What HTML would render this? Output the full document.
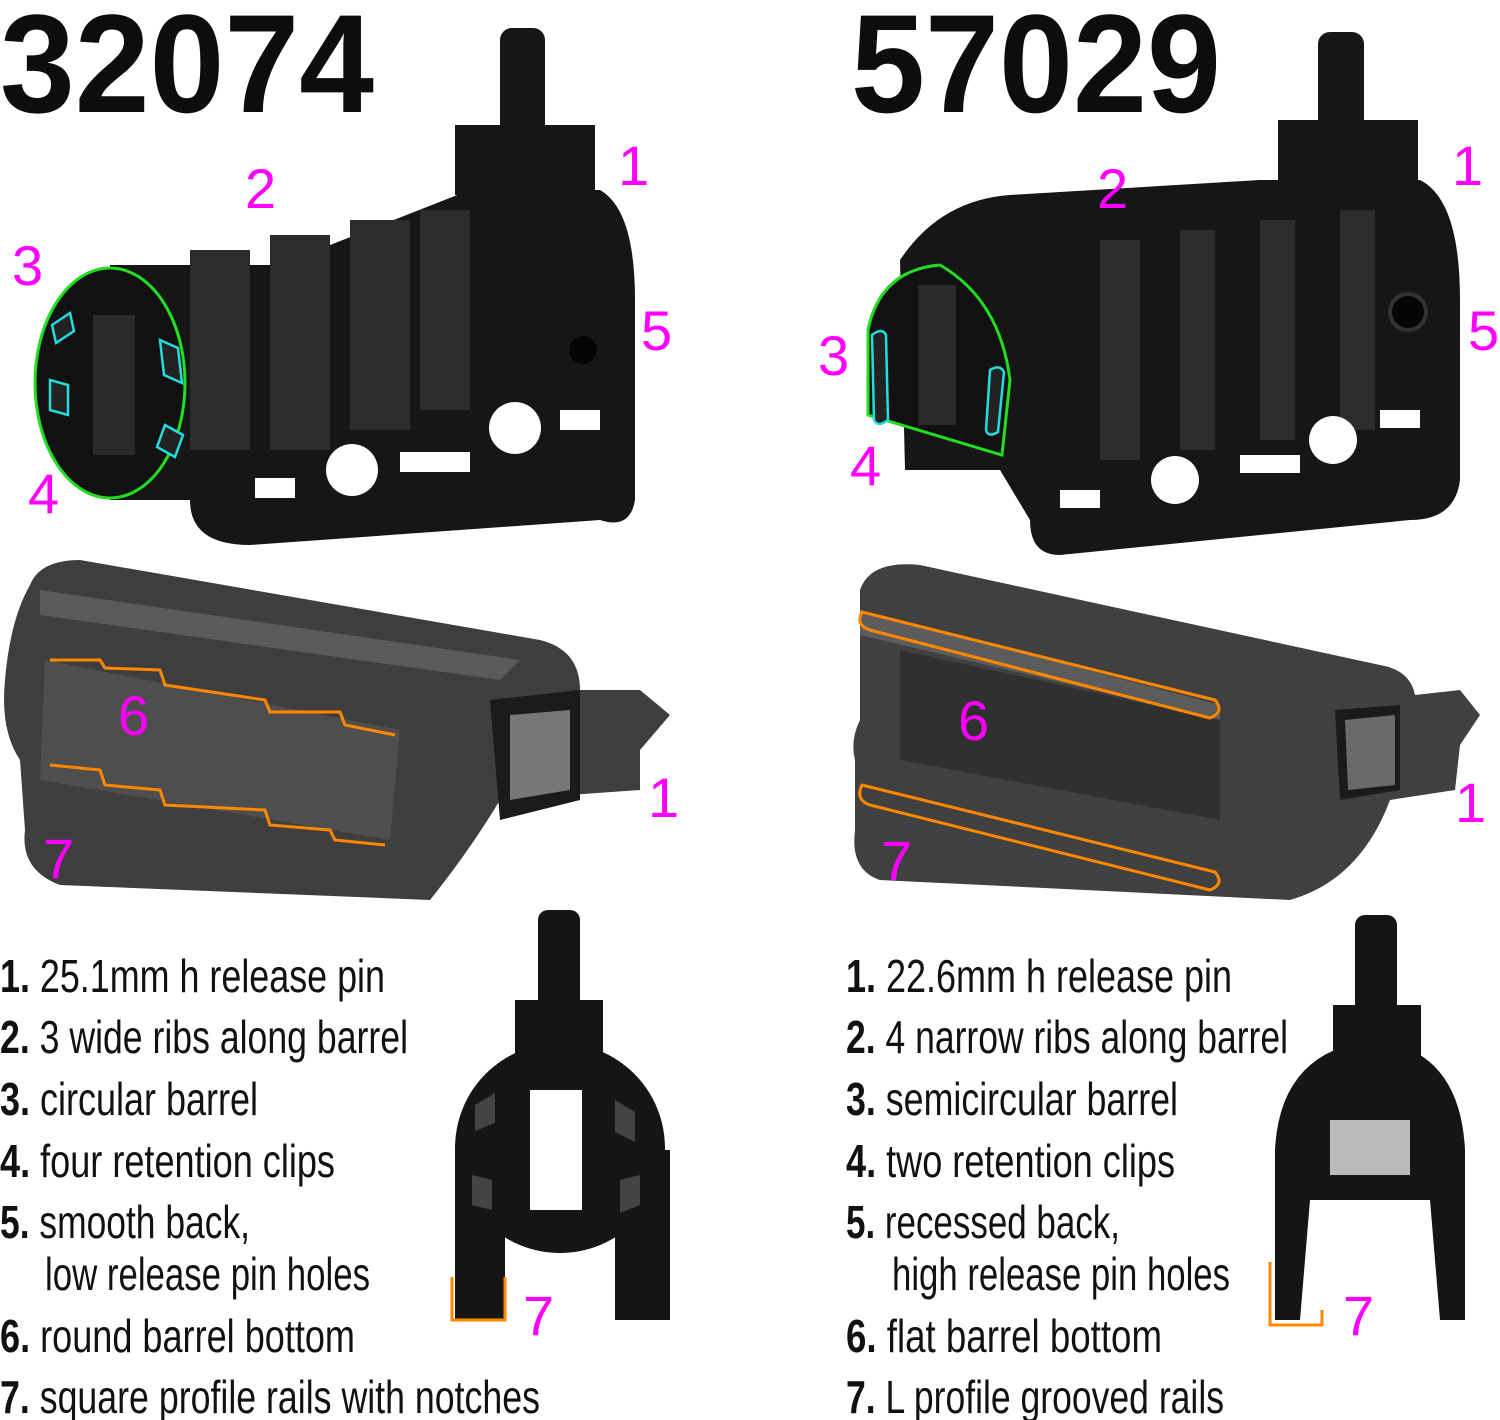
<!DOCTYPE html>
<html><head><meta charset="utf-8"><style>
html,body{margin:0;padding:0;background:#fff;width:1500px;height:1420px;overflow:hidden}
svg{display:block}
.t{font-family:"Liberation Sans Narrow","Liberation Sans",sans-serif;font-size:46px;fill:#111}
.b{font-weight:bold}
.m{font-family:"Liberation Sans",sans-serif;font-size:56px;fill:#ff00ff}
.h{font-family:"Liberation Sans Narrow","Liberation Sans",sans-serif;font-weight:bold;font-size:140px;fill:#0d0d0d}
</style></head><body>
<svg width="1500" height="1420" viewBox="0 0 1500 1420" xmlns="http://www.w3.org/2000/svg">
<!-- titles -->
<text class="h" x="0" y="112" textLength="374" lengthAdjust="spacingAndGlyphs">32074</text>
<text class="h" x="851" y="112" textLength="370" lengthAdjust="spacingAndGlyphs">57029</text>

<!-- LEFT TOP PART -->
<g fill="#161616">
<rect x="500" y="28" width="45" height="110" rx="12"/>
<rect x="455" y="125" width="140" height="70"/>
<path d="M190 300 L470 190 L600 190 Q635 210 635 300 L635 500 Q630 530 600 520 L250 545 Q190 545 190 500 Z"/>
<rect x="110" y="265" width="370" height="235"/>
</g>
<g fill="#2c2c2c">
<rect x="190" y="250" width="60" height="200"/><rect x="270" y="235" width="60" height="215"/><rect x="350" y="220" width="60" height="210"/><rect x="420" y="210" width="50" height="200"/>
</g>
<g fill="#fff">
<circle cx="352" cy="470" r="26"/><circle cx="515" cy="428" r="26"/><circle cx="583" cy="350" r="14" fill="#050505"/>
<rect x="255" y="478" width="40" height="20"/><rect x="400" y="452" width="70" height="20"/><rect x="560" y="410" width="40" height="20"/>
</g>
<ellipse cx="110" cy="383" rx="75" ry="115" fill="#111" stroke="#22dd22" stroke-width="3"/>
<rect x="93" y="315" width="42" height="140" fill="#2a2a2a"/>
<g fill="#222" stroke="#22dddd" stroke-width="2.5">
<path d="M52 325 l18-12 l4 18 l-18 12z"/><path d="M160 340 l18 8 l4 35 l-18-8z"/><path d="M50 380 l18 5 l0 30 l-18-5z"/><path d="M165 425 l18 10 l-8 22 l-18-10z"/>
</g>

<!-- RIGHT TOP PART -->
<g fill="#161616">
<rect x="1318" y="32" width="46" height="110" rx="12"/>
<rect x="1278" y="120" width="140" height="70"/>
<path d="M900 260 Q940 200 1010 195 L1260 180 L1420 180 Q1460 200 1460 300 L1460 480 Q1455 520 1410 520 L1060 555 Q1030 555 1030 520 L1000 470 L905 470 Z"/>
</g>
<g fill="#2c2c2c">
<rect x="1100" y="240" width="40" height="220"/><rect x="1180" y="230" width="35" height="220"/><rect x="1260" y="220" width="35" height="220"/><rect x="1340" y="210" width="35" height="220"/>
</g>
<g fill="#fff"><circle cx="1175" cy="480" r="24"/><circle cx="1333" cy="440" r="24"/><rect x="1060" y="490" width="40" height="18"/><rect x="1240" y="455" width="60" height="18"/><rect x="1380" y="410" width="40" height="18"/></g>
<circle cx="1408" cy="312" r="18" fill="#050505" stroke="#333" stroke-width="4"/>
<path d="M868 415 L868 330 Q880 270 940 265 Q1000 300 1010 380 L1002 455 Z" fill="#111" stroke="#22dd22" stroke-width="3"/>
<rect x="918" y="285" width="38" height="140" fill="#2a2a2a"/>
<g fill="#222" stroke="#22dddd" stroke-width="2.5"><path d="M872 335 q10-8 14 0 l2 85 q-10 8-14 0z"/><path d="M990 370 q10-6 14 2 l-6 60 q-10 6-12-2z"/></g>

<!-- LEFT BOTTOM PART -->
<path d="M30 585 Q40 560 80 560 L540 640 Q580 650 580 690 L640 690 L670 715 L640 750 L640 790 L500 800 Q470 850 430 900 L60 885 Q20 870 25 830 L20 760 Q0 730 5 680 Q10 620 30 585 Z" fill="#3e3e3e"/>
<path d="M40 590 L520 660 L500 680 L40 615 Z" fill="#5a5a5a"/>
<path d="M45 660 L400 730 L390 840 L40 780 Z" fill="#4e4e4e"/>
<path d="M490 700 L580 690 L580 800 L500 820 Z" fill="#1a1a1a"/>
<path d="M510 715 L570 710 L570 790 L510 800 Z" fill="#777"/>
<path d="M50 660 L100 660 L105 668 L160 670 L165 685 L265 700 L270 712 L340 712 L345 725 L395 735" fill="none" stroke="#ff8800" stroke-width="3"/>
<path d="M50 765 L100 770 L105 785 L160 790 L165 805 L265 810 L270 825 L330 830 L335 840 L385 845" fill="none" stroke="#ff8800" stroke-width="3"/>

<!-- RIGHT BOTTOM PART -->
<path d="M860 590 Q870 560 920 565 L1380 665 Q1410 670 1415 695 L1460 690 L1480 715 L1460 745 L1455 790 L1390 800 Q1360 880 1290 900 L880 880 Q850 870 855 830 L855 760 Q850 740 860 720 Z" fill="#404040"/>
<path d="M860 610 L1220 705 L1220 720 L860 635 Z" fill="#5c5c5c"/>
<path d="M900 650 L1220 720 L1220 820 L900 760 Z" fill="#303030"/>
<path d="M1335 710 L1400 705 L1400 790 L1340 800 Z" fill="#1a1a1a"/>
<path d="M1345 720 L1395 715 L1395 785 L1348 790 Z" fill="#6a6a6a"/>
<path d="M862 612 Q855 625 870 630 L1210 718 Q1225 712 1215 700 Z" fill="none" stroke="#ff8800" stroke-width="3"/>
<path d="M862 785 Q855 800 870 805 L1210 890 Q1225 884 1215 872 Z" fill="none" stroke="#ff8800" stroke-width="3"/>

<!-- LEFT FRONT VIEW -->
<g fill="#151515">
<rect x="538" y="910" width="42" height="110" rx="10"/>
<rect x="515" y="1000" width="88" height="65"/>
<circle cx="560" cy="1148" r="105"/>
<rect x="455" y="1150" width="50" height="170"/><rect x="615" y="1150" width="55" height="170"/>
</g>
<rect x="530" y="1090" width="52" height="120" fill="#fff"/>
<g fill="#444"><path d="M475 1105 l20-12 l0 30 l-20 8z"/><path d="M472 1175 l20 5 l0 30 l-20-5z"/><path d="M615 1100 l20 12 l0 30 l-20-10z"/><path d="M620 1180 l20-5 l0 30 l-20 8z"/></g>
<path d="M452 1277 L452 1320 L505 1320 L505 1277" fill="none" stroke="#ff8800" stroke-width="3"/>

<!-- RIGHT FRONT VIEW -->
<g fill="#151515">
<rect x="1355" y="915" width="42" height="105" rx="10"/>
<rect x="1333" y="1005" width="88" height="55"/>
<path d="M1275 1320 L1275 1150 Q1280 1050 1375 1040 Q1460 1050 1465 1150 L1465 1320 L1440 1320 L1430 1200 L1310 1200 L1300 1320 Z"/>
</g>
<rect x="1330" y="1120" width="80" height="55" fill="#bbb"/>
<path d="M1270 1262 L1270 1325 L1322 1325 L1322 1310" fill="none" stroke="#ff8800" stroke-width="3"/>

<!-- magenta labels -->
<g class="m">
<text x="618" y="185">1</text><text x="245" y="208">2</text><text x="12" y="285">3</text><text x="28" y="513">4</text><text x="641" y="350">5</text>
<text x="118" y="735">6</text><text x="648" y="817">1</text><text x="43" y="878">7</text><text x="523" y="1335">7</text>
<text x="1452" y="185">1</text><text x="1097" y="208">2</text><text x="818" y="375">3</text><text x="850" y="485">4</text><text x="1468" y="350">5</text>
<text x="958" y="740">6</text><text x="1455" y="822">1</text><text x="881" y="880">7</text><text x="1343" y="1335">7</text>
</g>

<!-- left list -->
<g class="t">
<text x="0" y="992" textLength="385" lengthAdjust="spacingAndGlyphs"><tspan class="b">1.</tspan> 25.1mm h release pin</text>
<text x="0" y="1053" textLength="408" lengthAdjust="spacingAndGlyphs"><tspan class="b">2.</tspan> 3 wide ribs along barrel</text>
<text x="0" y="1115" textLength="258" lengthAdjust="spacingAndGlyphs"><tspan class="b">3.</tspan> circular barrel</text>
<text x="0" y="1177" textLength="335" lengthAdjust="spacingAndGlyphs"><tspan class="b">4.</tspan> four retention clips</text>
<text x="0" y="1238" textLength="250" lengthAdjust="spacingAndGlyphs"><tspan class="b">5.</tspan> smooth back,</text>
<text x="45" y="1290" textLength="325" lengthAdjust="spacingAndGlyphs">low release pin holes</text>
<text x="0" y="1352" textLength="355" lengthAdjust="spacingAndGlyphs"><tspan class="b">6.</tspan> round barrel bottom</text>
<text x="0" y="1413" textLength="540" lengthAdjust="spacingAndGlyphs"><tspan class="b">7.</tspan> square profile rails with notches</text>
</g>
<!-- right list -->
<g class="t">
<text x="846" y="992" textLength="386" lengthAdjust="spacingAndGlyphs"><tspan class="b">1.</tspan> 22.6mm h release pin</text>
<text x="846" y="1053" textLength="442" lengthAdjust="spacingAndGlyphs"><tspan class="b">2.</tspan> 4 narrow ribs along barrel</text>
<text x="846" y="1115" textLength="332" lengthAdjust="spacingAndGlyphs"><tspan class="b">3.</tspan> semicircular barrel</text>
<text x="846" y="1177" textLength="329" lengthAdjust="spacingAndGlyphs"><tspan class="b">4.</tspan> two retention clips</text>
<text x="846" y="1238" textLength="274" lengthAdjust="spacingAndGlyphs"><tspan class="b">5.</tspan> recessed back,</text>
<text x="892" y="1290" textLength="338" lengthAdjust="spacingAndGlyphs">high release pin holes</text>
<text x="846" y="1352" textLength="316" lengthAdjust="spacingAndGlyphs"><tspan class="b">6.</tspan> flat barrel bottom</text>
<text x="846" y="1413" textLength="378" lengthAdjust="spacingAndGlyphs"><tspan class="b">7.</tspan> L profile grooved rails</text>
</g>
</svg>
</body></html>
